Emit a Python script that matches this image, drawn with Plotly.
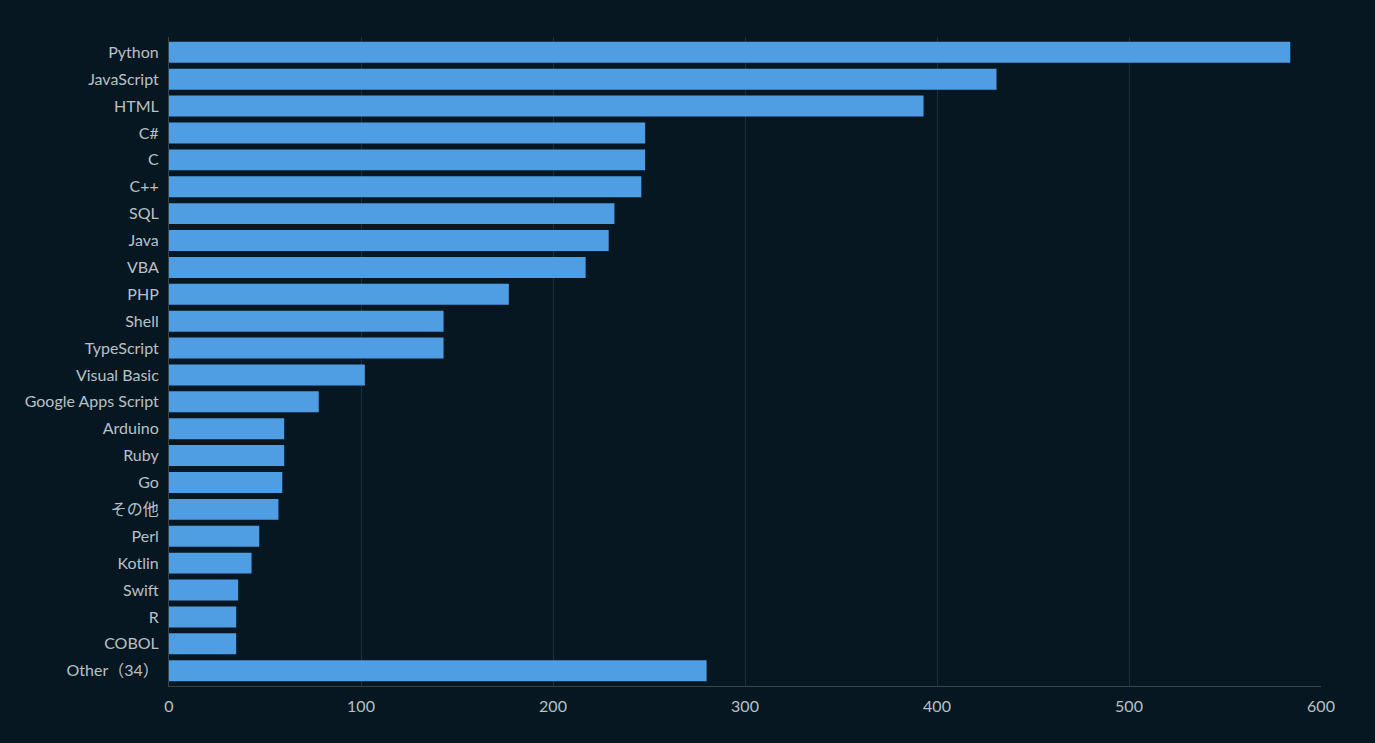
import plotly.graph_objects as go

languages = ["Python", "JavaScript", "HTML", "C#", "C", "C++", "SQL", "Java", "VBA", "PHP",
             "Shell", "TypeScript", "Visual Basic", "Google Apps Script", "Arduino", "Ruby",
             "Go", "その他", "Perl", "Kotlin", "Swift", "R", "COBOL", "Other（34）"]
counts = [584, 431, 393, 248, 248, 246, 232, 229, 217, 177,
          143, 143, 102, 78, 60, 60, 59, 57, 47, 43, 36, 35, 35, 280]
x_ticks = [0, 100, 200, 300, 400, 500, 600]

BG = "#071722"
TXT = "#b8c0c8"
GRID = "#1e2e3b"

fig = go.Figure(go.Bar(
    x=counts, y=languages, orientation="h",
    marker=dict(color="#4f9de3", line=dict(width=0)),
))

n = len(languages)
fig.update_layout(
    width=1375, height=743,
    paper_bgcolor=BG, plot_bgcolor=BG,
    margin=dict(l=169, r=54, t=37, b=57),
    font=dict(family="Lato, 'Noto Sans CJK JP', sans-serif", size=16, color=TXT),
    bargap=0.22,
    showlegend=False,
    xaxis=dict(range=[0, 600], tickvals=x_ticks, showgrid=True, gridcolor=GRID, gridwidth=1,
               zeroline=False, showline=True, linecolor="#34444f", linewidth=1,
               ticks="outside", ticklen=6, tickcolor="rgba(0,0,0,0)"),
    yaxis=dict(categoryorder="array", categoryarray=languages,
               range=[n - 1 + 0.57, -0.57],
               showgrid=False, zeroline=False, showline=True, linecolor="#34444f", linewidth=1,
               ticks="outside", ticklen=6, tickcolor="rgba(0,0,0,0)"),
)

fig.write_html("out.html", config={"displayModeBar": False},
               post_script="document.body.style.margin='0';document.body.style.background='#071722';")
